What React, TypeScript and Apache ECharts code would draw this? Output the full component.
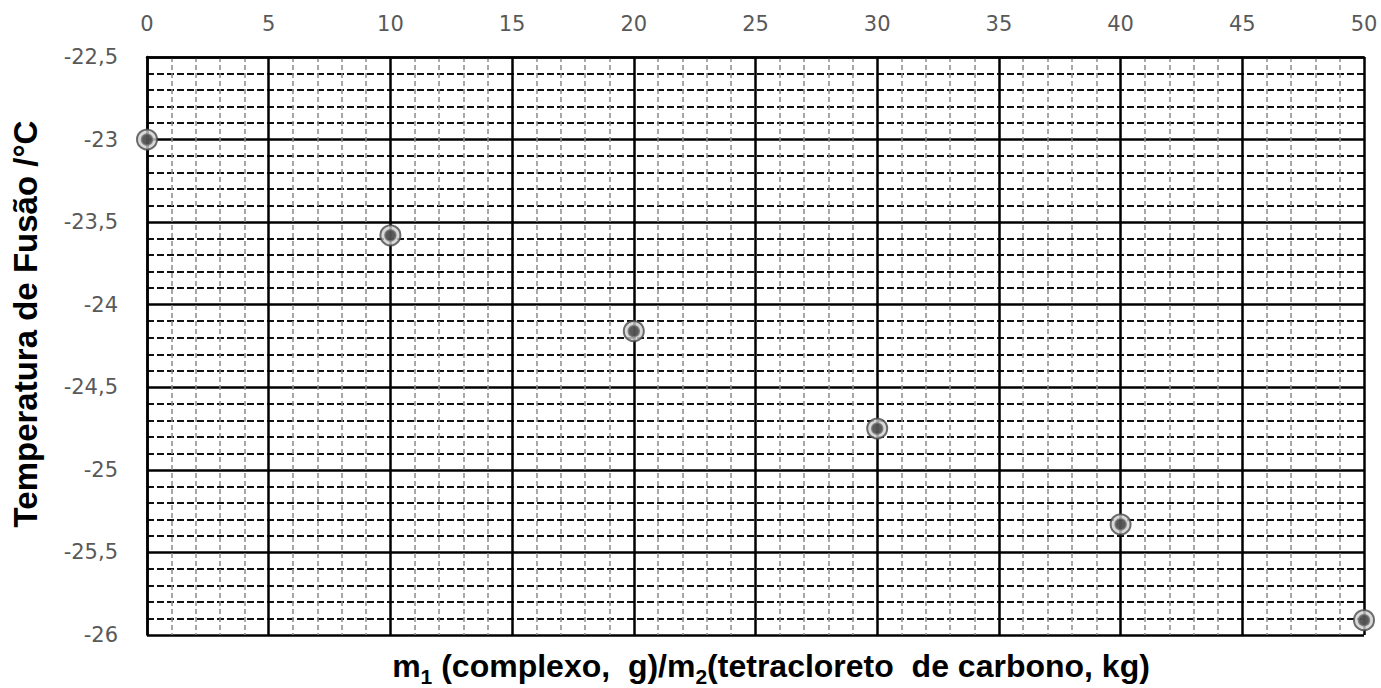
import React, { useEffect, useRef } from "react";
import * as echarts from "echarts";

const xValues = [0, 10, 20, 30, 40, 50];
const yValues = [-23.0, -23.58, -24.16, -24.75, -25.33, -25.91];
const xAxisMin = 0;
const xAxisMax = 50;
const xAxisInterval = 5;
const yAxisMin = -26;
const yAxisMax = -22.5;
const yAxisInterval = 0.5;
const yTitle = "Temperatura de Fusão /°C";
const xTitleRich = "{b|m}{s|1}{b| (complexo,  g)/m}{s|2}{b|(tetracloreto  de carbono, kg)}";

export default function App() {
  const ref = useRef<HTMLDivElement>(null);
  useEffect(() => {
    if (!ref.current) return;
    const chart = echarts.init(ref.current, null, { renderer: "svg" });
    const points = xValues.map((x, i) => [x, yValues[i]]);
    const labelFont = "'DejaVu Sans', sans-serif";
    const titleFamily = "'Liberation Sans', Arial, sans-serif";
    chart.setOption({
      animation: false,
      backgroundColor: "#ffffff",
      grid: { left: 147, right: 17, top: 57, bottom: 53, containLabel: false },
      graphic: [
        {
          type: "text",
          x: 25,
          y: 324,
          rotation: Math.PI / 2,
          style: {
            text: yTitle,
            fontFamily: titleFamily,
            fontWeight: "bold",
            fontSize: 33,
            fill: "#000",
            align: "center",
            verticalAlign: "middle",
          },
        },
        {
          type: "text",
          x: 771,
          y: 666,
          style: {
            text: xTitleRich,
            align: "center",
            verticalAlign: "middle",
            rich: {
              b: { fontFamily: titleFamily, fontWeight: "bold", fontSize: 32, lineHeight: 42, fill: "#000" },
              s: { fontFamily: titleFamily, fontWeight: "bold", fontSize: 21, lineHeight: 21, fill: "#000", verticalAlign: "bottom" },
            },
          },
        },
      ],
      xAxis: {
        type: "value",
        position: "top",
        min: xAxisMin,
        max: xAxisMax,
        interval: xAxisInterval,
        axisLine: { show: true, onZero: false, lineStyle: { color: "#000", width: 2.5 } },
        axisTick: { show: false },
        axisLabel: { margin: 23, color: "#595959", fontSize: 21, fontFamily: labelFont },
        splitLine: { show: true, lineStyle: { color: "#000", width: 2.5 } },
        minorTick: { show: false, splitNumber: 5 },
        minorSplitLine: { show: true, lineStyle: { color: "#8a8a8a", width: 1.5, type: [5, 3] } },
      },
      yAxis: {
        type: "value",
        min: yAxisMin,
        max: yAxisMax,
        interval: yAxisInterval,
        axisLine: { show: true, onZero: false, lineStyle: { color: "#000", width: 2.5 } },
        axisTick: { show: false },
        axisLabel: {
          margin: 29,
          color: "#595959",
          fontSize: 21,
          fontFamily: labelFont,
          formatter: (v: number) => String(Math.round(v * 10) / 10).replace(".", ","),
        },
        splitLine: { show: true, lineStyle: { color: "#000", width: 2.5 } },
        minorTick: { show: false, splitNumber: 5 },
        minorSplitLine: { show: true, lineStyle: { color: "#111", width: 1.8, type: [7, 3] } },
      },
      series: [
        {
          type: "scatter",
          data: points,
          symbol: "circle",
          symbolSize: 20,
          itemStyle: { color: "#d0d0d0", borderColor: "#4a4a4a", borderWidth: 2 },
          z: 3,
        },
        {
          type: "scatter",
          data: points,
          symbol: "circle",
          symbolSize: 11,
          itemStyle: { color: "#3a3a3a", borderColor: "#777", borderWidth: 1.5 },
          z: 4,
        },
      ],
    });
    return () => chart.dispose();
  }, []);
  return <div ref={ref} style={{ position: "absolute", left: 0, top: 0, width: 1381, height: 688 }} />;
}
